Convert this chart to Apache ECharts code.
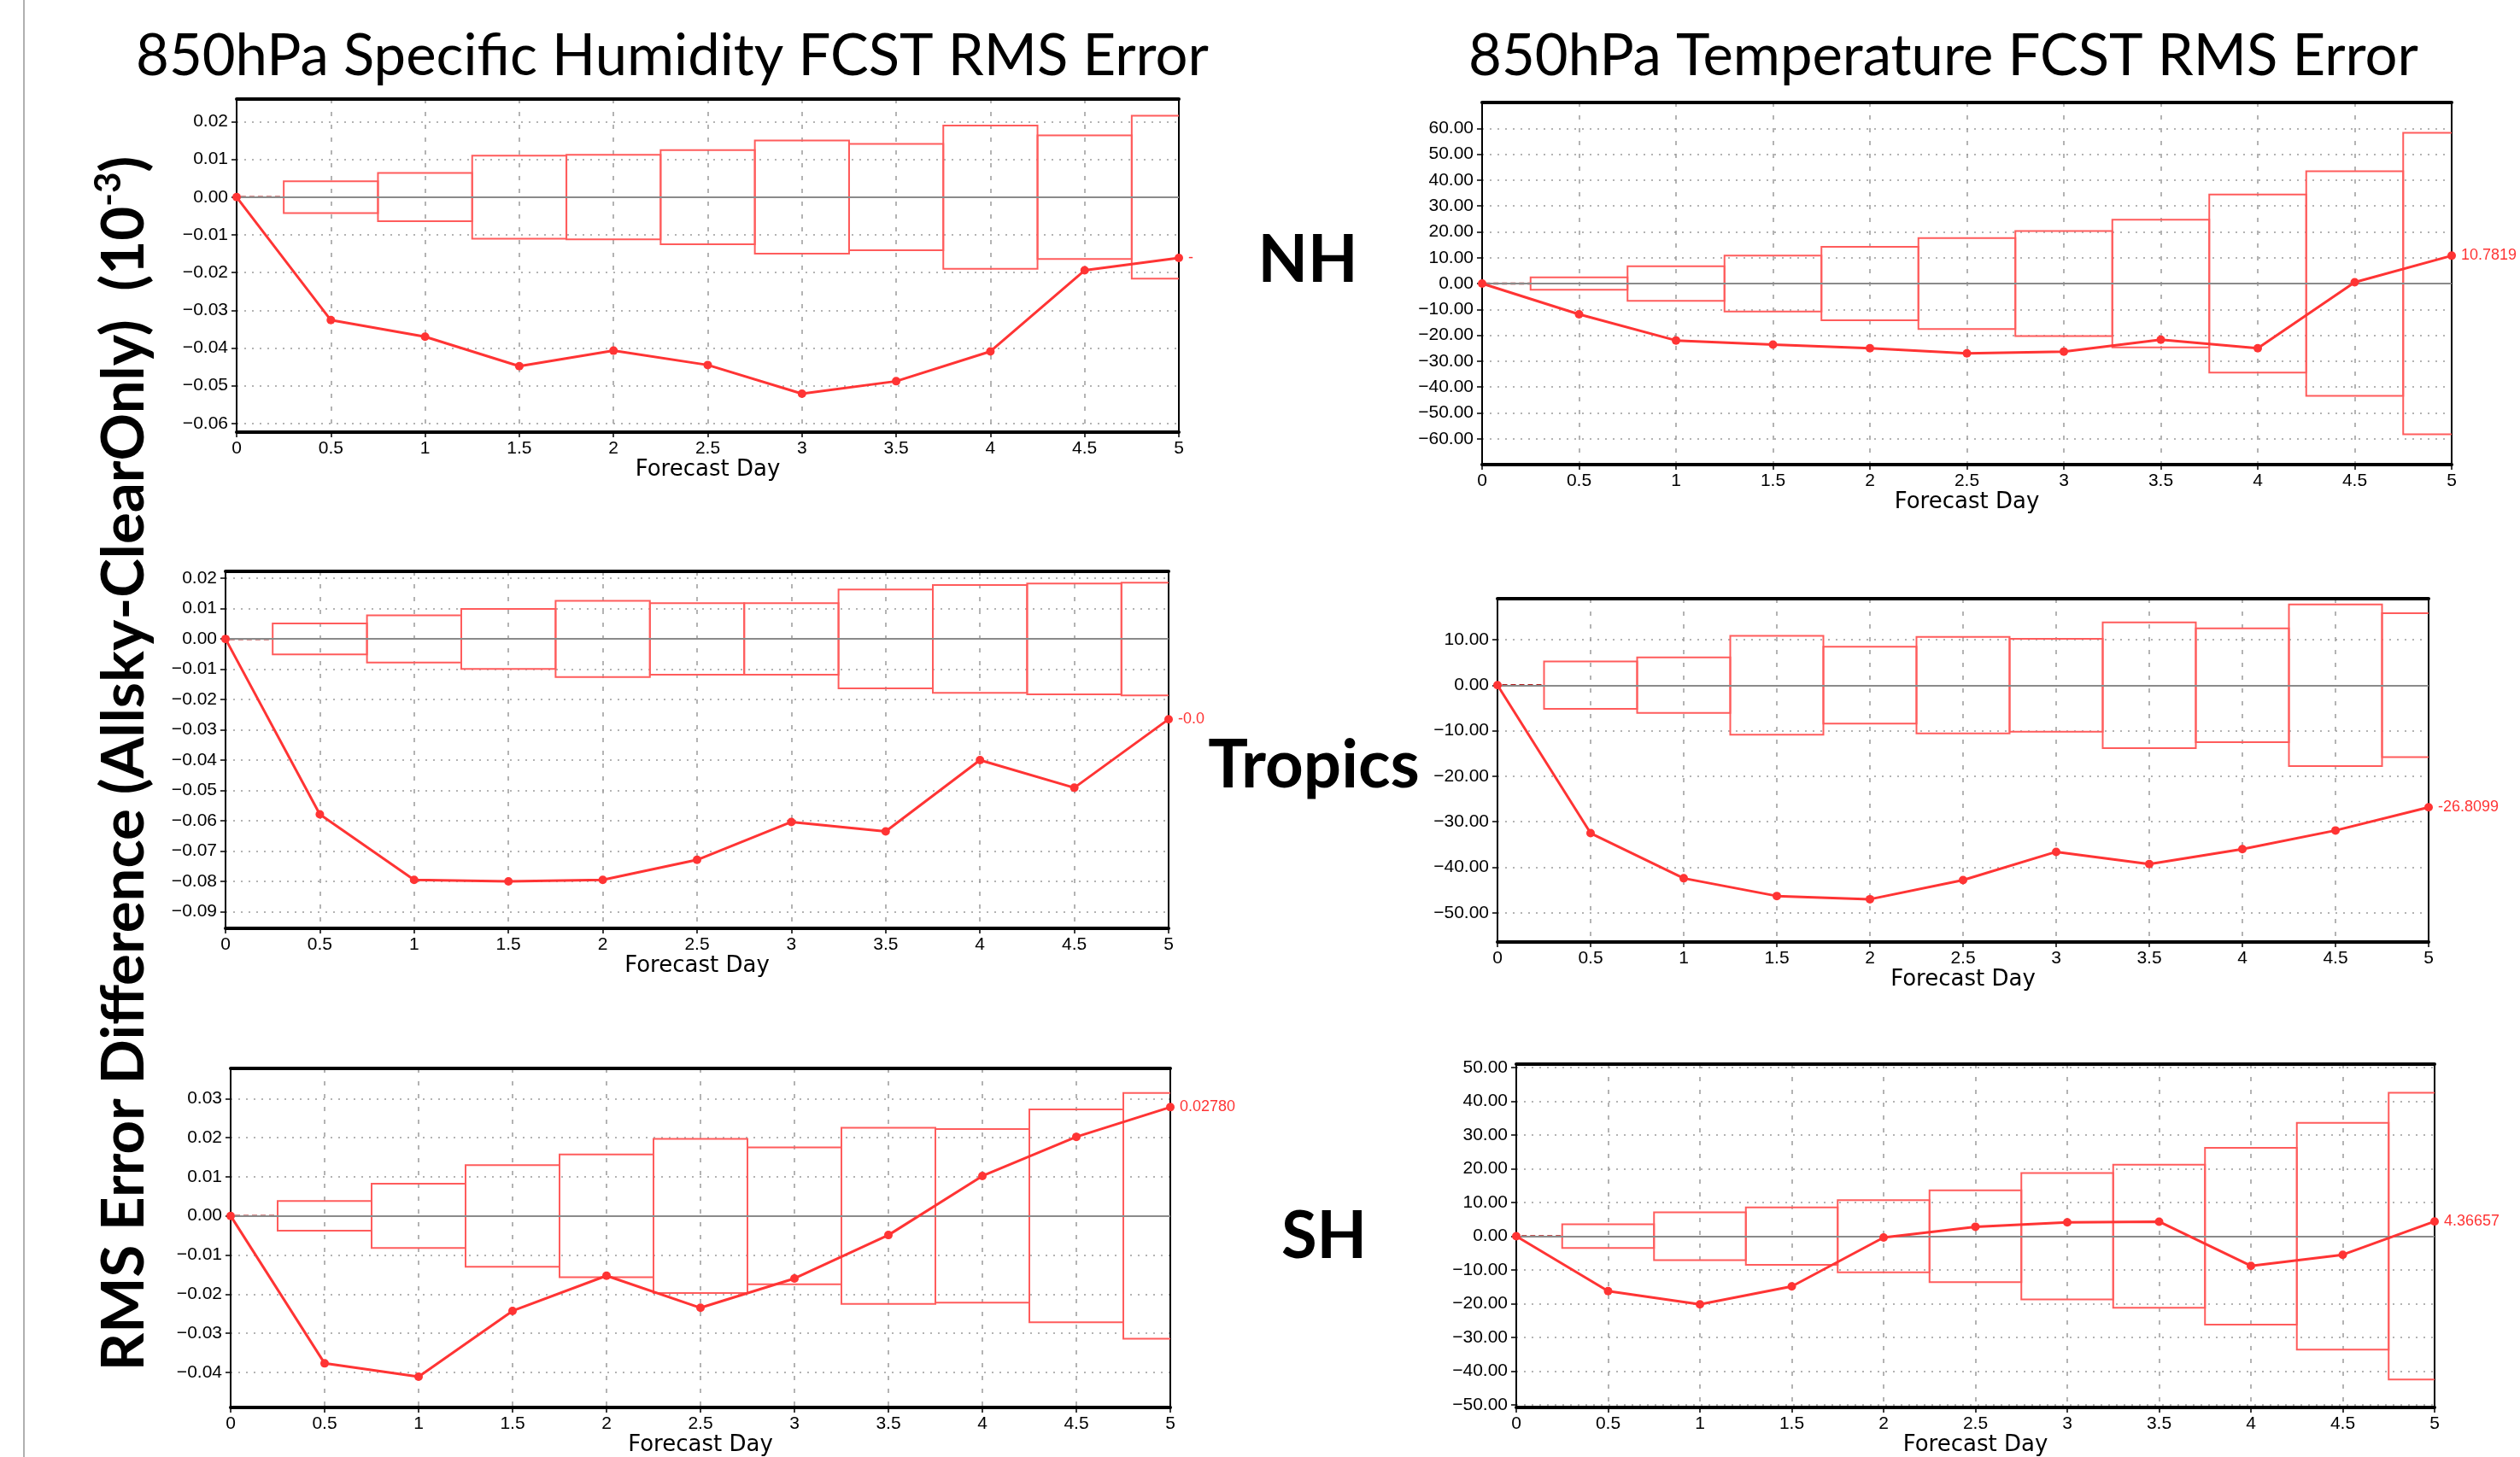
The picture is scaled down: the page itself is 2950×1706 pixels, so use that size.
<!DOCTYPE html>
<html lang="en">
<head>
<meta charset="UTF-8">
<title>850hPa FCST RMS Error</title>
<script src="https://cdn.jsdelivr.net/npm/echarts@6/dist/echarts.min.js"></script>
<style>
  html, body { margin: 0; padding: 0; background: #fff; }
  #chart { width: 2950px; height: 1706px; }
</style>
</head>
<body>
<div id="chart"></div>
<script>
// forecast days (x)
var days = [0, 0.5, 1, 1.5, 2, 2.5, 3, 3.5, 4, 4.5, 5];

// specific humidity, RMS error difference (10^-3)
var qNhDiff = [0, -0.0326, -0.0370, -0.0448, -0.0407, -0.0445, -0.0521, -0.0488, -0.0409, -0.0194, -0.0161];
var qNhBox  = [0, 0.0042, 0.0064, 0.0110, 0.0112, 0.0125, 0.0150, 0.0141, 0.0190, 0.0164, 0.0216];
var qTrDiff = [0, -0.0579, -0.0795, -0.0800, -0.0795, -0.0729, -0.0604, -0.0635, -0.0400, -0.0491, -0.0265];
var qTrBox  = [0, 0.0051, 0.0078, 0.0099, 0.0126, 0.0118, 0.0118, 0.0163, 0.0178, 0.0183, 0.0186];
var qShDiff = [0, -0.0377, -0.0411, -0.0243, -0.0153, -0.0235, -0.0160, -0.0049, 0.0102, 0.0202, 0.0278];
var qShBox  = [0, 0.0038, 0.0082, 0.0130, 0.0157, 0.0197, 0.0175, 0.0225, 0.0222, 0.0272, 0.0314];

// temperature, RMS error difference
var tNhDiff = [0, -11.9, -22.0, -23.6, -25.0, -27.0, -26.3, -21.7, -25.0, 0.5, 10.78];
var tNhBox  = [0, 2.4, 6.7, 10.8, 14.2, 17.6, 20.3, 24.7, 34.4, 43.4, 58.3];
var tTrDiff = [0, -32.5, -42.4, -46.3, -47.0, -42.8, -36.6, -39.3, -36.0, -31.9, -26.81];
var tTrBox  = [0, 5.2, 6.1, 10.85, 8.45, 10.6, 10.2, 13.8, 12.5, 17.75, 15.8];
var tShDiff = [0, -16.3, -20.2, -14.9, -0.4, 2.8, 4.1, 4.3, -8.8, -5.5, 4.37];
var tShBox  = [0, 3.5, 7.1, 8.5, 10.7, 13.6, 18.75, 21.2, 26.2, 33.6, 42.5];

// value printed at the last point of each curve
var endLabels = ['-0.01610', '10.7819', '-0.02650', '-26.8099', '0.02780', '4.36657'];

var titles = ['850hPa Specific Humidity FCST RMS Error', '850hPa Temperature FCST RMS Error'];
var regions = ['NH', 'Tropics', 'SH'];
var yTitle = 'RMS Error Difference (Allsky-ClearOnly)  (10';
var yTitleSup = '-3';
var xName = 'Forecast Day';

var RED = '#ff3434';
var BOX = '#ff5c5c';
var LABEL_FONT = '"Liberation Sans", Arial, sans-serif';
var NAME_FONT = '"DejaVu Sans", sans-serif';
var TITLE_FONT = 'Lato, "Open Sans", sans-serif';

// layout of the six panels
var panels = [
  { diff: qNhDiff, box: qNhBox, end: 0, cut: 12, left: 277, top: 116, width: 1103, height: 390, min: -0.0623, max: 0.026, step: 0.01 },
  { diff: tNhDiff, box: tNhBox, end: 1, left: 1735, top: 120, width: 1135, height: 424, min: -70, max: 70, step: 10 },
  { diff: qTrDiff, box: qTrBox, end: 2, cut: 42, left: 264, top: 669, width: 1104, height: 418, min: -0.0955, max: 0.0223, step: 0.01 },
  { diff: tTrDiff, box: tTrBox, end: 3, left: 1753, top: 701, width: 1090, height: 402, min: -56.4, max: 19, step: 10 },
  { diff: qShDiff, box: qShBox, end: 4, left: 270, top: 1251, width: 1100, height: 415, min: -0.049, max: 0.0377, step: 0.01 },
  { diff: tShDiff, box: tShBox, end: 5, left: 1775, top: 1246, width: 1075, height: 408, min: -50.8, max: 51, step: 10 }
];

function boxItem(params, api) {
  var d = api.value(0);
  var h = api.value(1);
  var a = api.coord([d - 0.25, h]);
  var b = api.coord([d + 0.25, -h]);
  if (h === 0) {
    return {
      type: 'line',
      shape: { x1: a[0], y1: a[1], x2: b[0], y2: b[1] },
      style: { stroke: '#b02020', lineWidth: 2.5, lineDash: [6, 4] }
    };
  }
  return {
    type: 'rect',
    shape: { x: a[0], y: a[1], width: b[0] - a[0], height: b[1] - a[1] },
    style: { stroke: BOX, fill: 'none', lineWidth: 2 }
  };
}

var grids = [], xAxes = [], yAxes = [], series = [];

panels.forEach(function (p, i) {
  grids.push({
    left: p.left, top: p.top, width: p.width, height: p.height,
    show: true, borderColor: '#000', borderWidth: 2
  });

  xAxes.push({
    type: 'value', gridIndex: i, min: 0, max: 5, interval: 0.5, position: 'bottom',
    axisLine: { onZero: false, lineStyle: { color: '#000', width: 4 } },
    axisTick: { show: true, length: 6, lineStyle: { color: '#000', width: 1.5 } },
    axisLabel: { color: '#000', fontFamily: LABEL_FONT, fontSize: 21, margin: 9 },
    splitLine: { show: true, lineStyle: { color: '#9a9a9a', width: 1.5, type: [5, 10] } },
    name: xName, nameLocation: 'middle', nameGap: 26,
    nameTextStyle: { color: '#000', fontFamily: NAME_FONT, fontSize: 26 }
  });
  xAxes.push({
    type: 'value', gridIndex: i, min: 0, max: 5, position: 'top',
    axisLine: { onZero: false, lineStyle: { color: '#000', width: 4 } },
    axisTick: { show: false }, axisLabel: { show: false }, splitLine: { show: false }
  });

  var span = p.max - p.min;
  yAxes.push({
    type: 'value', gridIndex: i, min: p.min, max: p.max, position: 'left',
    splitNumber: Math.round(span / p.step),
    minInterval: p.step, maxInterval: p.step,
    axisLine: { show: true, onZero: false, lineStyle: { color: '#000', width: 2 } },
    axisTick: { show: true, length: 6, lineStyle: { color: '#000', width: 1.5 } },
    axisLabel: {
      color: '#000', fontFamily: LABEL_FONT, fontSize: 21, margin: 10,
      showMinLabel: false, showMaxLabel: false,
      formatter: function (v) { return v.toFixed(2).replace('-', '\u2212'); }
    },
    splitLine: { show: true, lineStyle: { color: '#9a9a9a', width: 1.5, type: [2, 7] } }
  });
  // right frame edge, drawn above the grid lines
  yAxes.push({
    type: 'value', gridIndex: i, min: p.min, max: p.max, position: 'right',
    axisLine: { show: true, onZero: false, lineStyle: { color: '#000', width: 2 } },
    axisTick: { show: false }, axisLabel: { show: false }, splitLine: { show: false }
  });

  series.push({
    type: 'custom', xAxisIndex: 2 * i, yAxisIndex: 2 * i, clip: true, silent: true, z: 2,
    renderItem: boxItem,
    data: days.map(function (d, k) { return [d, p.box[k]]; }),
    markLine: {
      silent: true, symbol: 'none', animation: false,
      label: { show: false },
      lineStyle: { color: '#8a8a8a', width: 2, type: 'solid' },
      data: [{ yAxis: 0 }]
    }
  });

  var endLabel = {
    show: true, position: 'right', distance: 6,
    formatter: endLabels[p.end],
    color: RED, fontFamily: LABEL_FONT, fontSize: 18
  };
  if (p.cut) {
    endLabel.width = p.cut;
    endLabel.overflow = 'truncate';
    endLabel.ellipsis = '';
  }
  series.push({
    type: 'line', xAxisIndex: 2 * i, yAxisIndex: 2 * i, z: 5,
    symbol: 'circle', symbolSize: 10,
    lineStyle: { color: RED, width: 3 },
    itemStyle: { color: RED },
    data: days.map(function (d, k) {
      var item = { value: [d, p.diff[k]] };
      if (k === days.length - 1) item.label = endLabel;
      return item;
    })
  });
});

var graphics = [
  { type: 'line', shape: { x1: 28, y1: 0, x2: 28, y2: 1706 }, style: { stroke: '#b0b0b0', lineWidth: 2 } },
  { type: 'text', x: 787, y: 66, style: { text: titles[0], fontFamily: TITLE_FONT, fontSize: 67, fill: '#000', align: 'center', verticalAlign: 'middle' } },
  { type: 'text', x: 2275, y: 66, style: { text: titles[1], fontFamily: TITLE_FONT, fontSize: 67, fill: '#000', align: 'center', verticalAlign: 'middle' } },
  { type: 'text', x: 1531, y: 305, style: { text: regions[0], fontFamily: TITLE_FONT, fontWeight: 'bold', fontSize: 76, fill: '#000', align: 'center', verticalAlign: 'middle' } },
  { type: 'text', x: 1538, y: 897, style: { text: regions[1], fontFamily: TITLE_FONT, fontWeight: 'bold', fontSize: 78, fill: '#000', align: 'center', verticalAlign: 'middle' } },
  { type: 'text', x: 1550, y: 1448, style: { text: regions[2], fontFamily: TITLE_FONT, fontWeight: 'bold', fontSize: 76, fill: '#000', align: 'center', verticalAlign: 'middle' } },
  {
    type: 'text', x: 146, y: 894, rotation: Math.PI / 2,
    style: {
      text: '{a|' + yTitle + '}{b|' + yTitleSup + '}{a|)}',
      align: 'center', verticalAlign: 'middle', fill: '#000',
      rich: {
        a: { fontFamily: TITLE_FONT, fontWeight: 'bold', fontSize: 69, lineHeight: 80 },
        b: { fontFamily: TITLE_FONT, fontWeight: 'bold', fontSize: 42, verticalAlign: 'top' }
      }
    }
  }
];

var chart = echarts.init(document.getElementById('chart'));
chart.setOption({
  animation: false,
  backgroundColor: '#fff',
  grid: grids,
  xAxis: xAxes,
  yAxis: yAxes,
  series: series,
  graphic: graphics
});
</script>
</body>
</html>
